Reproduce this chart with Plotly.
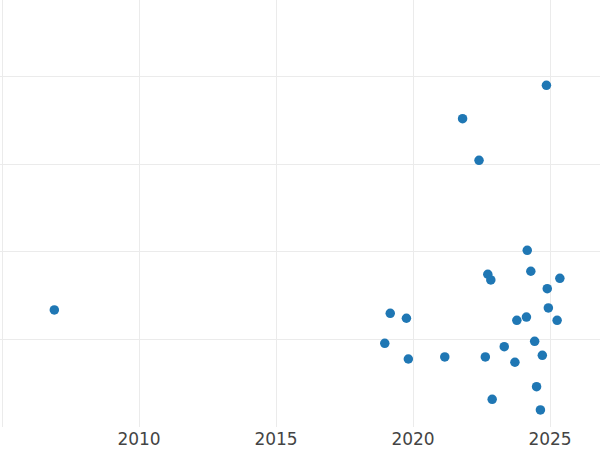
import plotly.graph_objects as go

# release year (x) and score (y, arbitrary units)
years = [
    2024.87, 2021.81, 2022.41, 2024.17, 2022.73, 2024.30, 2022.84, 2025.36,
    2024.90, 2006.91, 2019.17, 2019.76, 2024.94, 2024.14, 2023.79, 2025.26,
    2018.97, 2024.44, 2023.33, 2019.83, 2021.16, 2022.64, 2024.72, 2023.72,
    2024.51, 2022.89, 2024.65,
]
scores = [
    3.894, 3.515, 3.042, 2.019, 1.747, 1.781, 1.682, 1.701,
    1.583, 1.341, 1.303, 1.247, 1.364, 1.261, 1.224, 1.224,
    0.962, 0.985, 0.924, 0.784, 0.807, 0.807, 0.826, 0.747,
    0.469, 0.326, 0.205,
]
x_ticks = [2005, 2010, 2015, 2020, 2025]
x_labels = ["", "2010", "2015", "2020", "2025"]

fig = go.Figure(
    go.Scatter(
        x=years,
        y=scores,
        mode="markers",
        marker=dict(size=9.5, color="#1f77b4"),
        showlegend=False,
    )
)

fig.update_layout(
    width=600,
    height=450,
    margin=dict(l=0, r=0, t=0, b=23),
    plot_bgcolor="white",
    paper_bgcolor="white",
    font=dict(family="DejaVu Sans", size=17, color="#444"),
)
fig.update_xaxes(
    range=[2004.927, 2026.825],
    tickvals=x_ticks,
    ticktext=x_labels,
    showgrid=True,
    gridcolor="#ebebeb",
    gridwidth=1.3,
    zeroline=False,
    showline=False,
    automargin=False,
)
fig.update_yaxes(
    range=[0.011, 4.864],
    dtick=1,
    showgrid=True,
    gridcolor="#ebebeb",
    gridwidth=1.3,
    zeroline=False,
    showticklabels=False,
    automargin=False,
)

# figure fills the window, so drop the page's default body margin
fig.write_html(
    "out.html",
    config={"displayModeBar": False},
    post_script="document.body.style.margin = '0';",
)
